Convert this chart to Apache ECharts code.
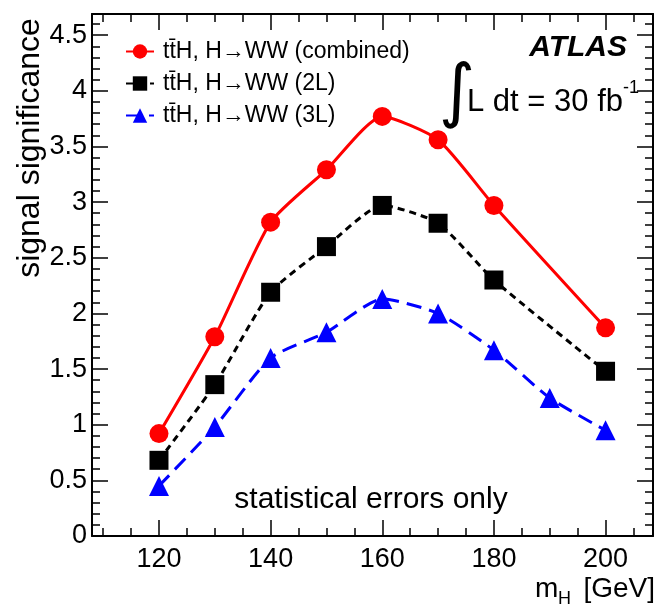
<!DOCTYPE html>
<html><head><meta charset="utf-8">
<script src="https://cdn.jsdelivr.net/npm/echarts@6/dist/echarts.min.js"></script>
<style>html,body{margin:0;padding:0;background:#fff}#c{width:656px;height:606px}</style>
</head><body><div id="c"></div>
<script>
const massCombined = [120,130,140,150,160,170,180,200];
const sigCombined  = [0.92,1.79,2.82,3.29,3.77,3.56,2.97,1.87];
const mass2L = [120,130,140,150,160,170,180,200];
const sig2L  = [0.68,1.36,2.19,2.60,2.97,2.81,2.30,1.48];
const mass3L = [120,130,140,150,160,170,180,190,200];
const sig3L  = [0.45,0.98,1.60,1.83,2.13,2.00,1.67,1.24,0.95];
const xMajor = [120,140,160,180,200];
const xMinor = [110,115,125,130,135,145,150,155,165,170,175,185,190,195,205];
const yMajor = [0,0.5,1,1.5,2,2.5,3,3.5,4,4.5];
const yMinor = [];
for (let i = 1; i <= 46; i++) { if (i % 5 !== 0) yMinor.push(+(i/10).toFixed(1)); }
const seriesNames = ['tt\u0304H, H\u2192WW (combined)','tt\u0304H, H\u2192WW (2L)','tt\u0304H, H\u2192WW (3L)'];

const FONT = 'Liberation Sans';
const X_MIN = 108, X_MAX = 208.5, Y_MIN = 0, Y_MAX = 4.69;
const zip = (a,b) => a.map((v,i)=>[v,b[i]]);
const lineS = {color:'#000', width:2};
const tickS = {color:'#000', width:1.5};

function xAx(pos, vals, len, labels, line) {
  return {type:'value', min:X_MIN, max:X_MAX, position:pos,
    axisLine:{show:line, onZero:false, lineStyle:lineS},
    axisTick:{show:true, inside:true, length:len, customValues:vals, lineStyle:tickS},
    axisLabel: labels ? {show:true, customValues:vals, color:'#000', fontFamily:FONT, fontSize:27, margin:10} : {show:false},
    splitLine:{show:false}};
}
function yAx(pos, vals, len, labels, line) {
  return {type:'value', min:Y_MIN, max:Y_MAX, position:pos,
    axisLine:{show:line, onZero:false, lineStyle:lineS},
    axisTick:{show:true, inside:true, length:len, customValues:vals, lineStyle:tickS},
    axisLabel: labels ? {show:true, customValues:vals, color:'#000', fontFamily:FONT, fontSize:27, margin:5} : {show:false},
    splitLine:{show:false}};
}

const chart = echarts.init(document.getElementById('c'), null, {renderer:'canvas'});
chart.setOption({
  animation:false,
  backgroundColor:'#fff',
  grid:{left:92, right:3, top:14, bottom:70, containLabel:false},
  xAxis:[xAx('bottom',xMajor,16,true,true), xAx('bottom',xMinor,8,false,false), xAx('top',xMajor,16,false,true), xAx('top',xMinor,8,false,false)],
  yAxis:[yAx('left',yMajor,16,true,true), yAx('left',yMinor,8,false,false), yAx('right',yMajor,16,false,true), yAx('right',yMinor,8,false,false)],
  legend:{orient:'vertical', left:120, top:31, itemWidth:28, itemHeight:18, itemGap:1,
    textStyle:{fontFamily:FONT, fontSize:23, color:'#000', lineHeight:31, padding:[0,0,0,4]},
    data:seriesNames},
  series:[
    {name:seriesNames[0], type:'line', data:zip(massCombined,sigCombined), smooth:0.2,
     symbol:'circle', symbolSize:19, itemStyle:{color:'#ff0000'}, lineStyle:{color:'#ff0000', width:3}, z:5},
    {name:seriesNames[1], type:'line', data:zip(mass2L,sig2L), smooth:0.2,
     symbol:'rect', symbolSize:19, itemStyle:{color:'#000'}, lineStyle:{color:'#000', width:3, type:[7,5]}, z:4},
    {name:seriesNames[2], type:'line', data:zip(mass3L,sig3L), smooth:0.2,
     symbol:'triangle', symbolSize:20, itemStyle:{color:'#0000ff'}, lineStyle:{color:'#0000ff', width:3, type:[15,8]}, z:3}
  ],
  graphic:[
    {type:'text', x:30, y:148, rotation:Math.PI/2, style:{text:'signal significance', fontFamily:FONT, fontSize:32, fill:'#000', align:'center', verticalAlign:'middle'}},
    {type:'text', x:627, y:48, style:{text:'ATLAS', fontFamily:FONT, fontSize:30, fontWeight:'bold', fontStyle:'italic', fill:'#000', align:'right', verticalAlign:'middle'}},
    {type:'text', x:457, y:96, style:{text:'\u222B', fontFamily:'DejaVu Sans', fontSize:70, fill:'#000', align:'center', verticalAlign:'middle'}},
    {type:'text', x:467, y:102, style:{text:'L dt = 30 fb', fontFamily:FONT, fontSize:31, fill:'#000', align:'left', verticalAlign:'middle'}},
    {type:'text', x:623, y:88, style:{text:'-1', fontFamily:FONT, fontSize:18, fill:'#000', align:'left', verticalAlign:'middle'}},
    {type:'text', x:371, y:500, style:{text:'statistical errors only', fontFamily:FONT, fontSize:30, fill:'#000', align:'center', verticalAlign:'middle'}},
    {type:'text', x:535, y:589, style:{text:'m', fontFamily:FONT, fontSize:28, fill:'#000', align:'left', verticalAlign:'middle'}},
    {type:'text', x:558, y:599, style:{text:'H', fontFamily:FONT, fontSize:18, fill:'#000', align:'left', verticalAlign:'middle'}},
    {type:'text', x:655, y:589, style:{text:'[GeV]', fontFamily:FONT, fontSize:28, fill:'#000', align:'right', verticalAlign:'middle'}}
  ]
});
</script></body></html>
